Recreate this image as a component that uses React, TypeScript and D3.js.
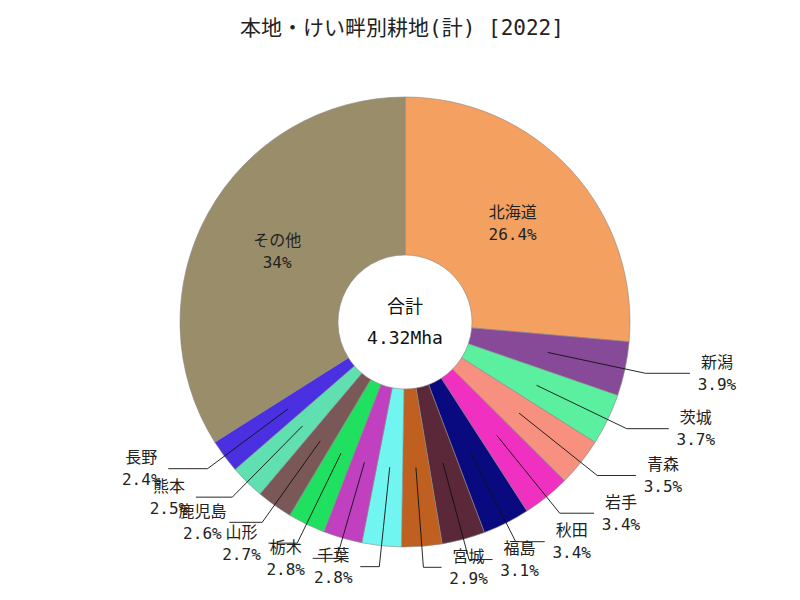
import React from 'react';
import * as d3 from 'd3';

const names = ['北海道', '新潟', '茨城', '青森', '岩手', '秋田', '福島', '宮城', '千葉', '栃木', '山形', '鹿児島', '熊本', '長野', 'その他'];
// thousand hectares
const values = [1141, 168, 160, 150, 148, 146, 134, 125, 122, 121, 116, 112, 107, 104, 1468];
const colors = ['#F4A060', '#874A98', '#5AF0A0', '#F8907F', '#F030C0', '#0A0A80', '#5A2838', '#C06020', '#70F5F0', '#C040C0', '#20E060', '#7A5858', '#60E0B0', '#4A30E0', '#9A8D6A'];
const title = '本地・けい畔別耕地(計) [2022]';
const centerName = '合計';
const unit = 'Mha';

const FONT = "'DejaVu Sans Mono', 'Noto Sans CJK JP', monospace";

export default function App() {
  const W = 800, H = 600;
  const cx = 405, cy = 322, R = 225, r0 = 67;
  const total = d3.sum(values);
  const pieData = d3.pie<number>().sort(null).value((d) => d)(values);
  const arc = d3.arc<d3.PieArcDatum<number>>().innerRadius(r0).outerRadius(R);
  const fmt = (p: number) => {
    const s = p.toFixed(1);
    return s.endsWith('.0') ? s.slice(0, -2) : s;
  };

  return (
    <svg width={W} height={H} style={{ position: 'absolute', left: 0, top: 0, background: '#fff' }} fontFamily={FONT}>
      <text x={402} y={28} textAnchor="middle" dominantBaseline="central" fontSize={21} fill="#222">{title}</text>
      <g transform={`translate(${cx},${cy})`}>
        {pieData.map((d, i) => (
          <path key={i} d={arc(d) || ''} fill={colors[i]} stroke="#888" strokeWidth={0.6} />
        ))}
        {pieData.map((d, i) => {
          const pct = (values[i] / total) * 100;
          const label = fmt(pct) + '%';
          const a = (d.startAngle + d.endAngle) / 2;
          const s = Math.sin(a), c = Math.cos(a);
          if (pct > 10) {
            const [x, y] = arc.centroid(d);
            return (
              <g key={'l' + i} fontSize={16} fill="#222" textAnchor="middle">
                <text x={x} y={y - 11} dominantBaseline="central">{names[i]}</text>
                <text x={x} y={y + 11} dominantBaseline="central">{label}</text>
              </g>
            );
          }
          const side = s >= 0 ? 1 : -1;
          const x1 = s * 146, y1 = -c * 146;
          const x2 = s * 246, y2 = -c * 246;
          const tx = x2 + side * (43 + 29 * Math.abs(s));
          const x3 = tx - side * 27;
          return (
            <g key={'l' + i}>
              <polyline points={`${x1},${y1} ${x2},${y2} ${x3},${y2}`} fill="none" stroke="#111" strokeWidth={0.9} />
              <g fontSize={16} fill="#222" textAnchor="middle">
                <text x={tx} y={y2 - 11} dominantBaseline="central">{names[i]}</text>
                <text x={tx} y={y2 + 11} dominantBaseline="central">{label}</text>
              </g>
            </g>
          );
        })}
        <text x={0} y={-16} textAnchor="middle" dominantBaseline="central" fontSize={18} fill="#111">{centerName}</text>
        <text x={0} y={15} textAnchor="middle" dominantBaseline="central" fontSize={18} fill="#111">{(total / 1000).toFixed(2) + unit}</text>
      </g>
    </svg>
  );
}
